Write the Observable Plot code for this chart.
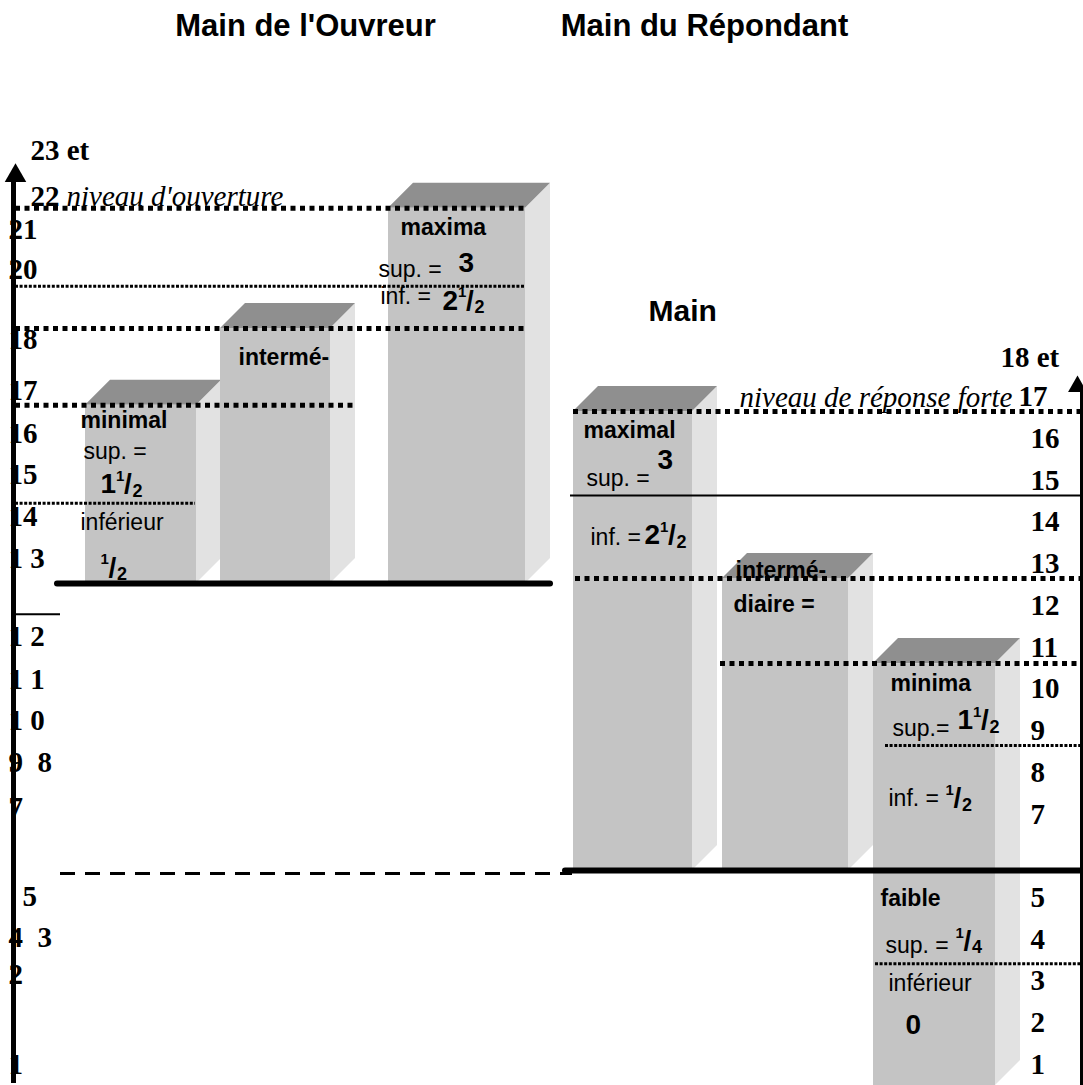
<!DOCTYPE html>
<html><head><meta charset="utf-8">
<script src="https://cdn.jsdelivr.net/npm/d3@7"></script>
<script src="https://cdn.jsdelivr.net/npm/@observablehq/plot@0.6"></script>
<style>
body{margin:0;background:#fff}
#chart svg{display:block}
#chart svg text{white-space:pre}
</style>
</head><body><div id="chart"></div>
<script>
// ---------------- DATA (values in points) ----------------
const titles = ["Main de l'Ouvreur", "Main du Répondant"];
const openerBars = ["minimal", "intermédiaire", "maxima"];
const openerTop = [16.8, 18.64, 21.52];
const openerBottom = [12.53, 12.53, 12.53];
const responderBars = ["maximal", "intermédiaire", "minima"];
const responderTop = [16.65, 12.65, 10.61];
const responderBottom = [5.65, 5.65, 0.5];

const leftTickLabels = ["23 et","22","21","20","18","17","16","15","14","1 3","1 2","1 1","1 0","9  8","7","5","4  3","2","1"];
const leftTickPos = [22.91,21.8,21.0,20.05,18.36,17.14,16.13,15.13,14.12,13.12,11.25,10.22,9.24,8.23,7.16,5.02,4.04,3.16,1.0];
const rightTickLabels = ["18 et","17","16","15","14","13","12","11","10","9","8","7","5","4","3","2","1"];
const rightTickPos = [17.95,17,16,15,14,13,12,11,10,9,8,7,5,4,3,2,1];

const openerLevels = [21.52, 19.65, 18.64, 16.8, 14.45];
const responderLevels = [16.65, 14.64, 12.65, 10.61, 8.65, 3.42];
const baseLevels = [12.53, 11.79, 5.58, 5.65];

const bandLabels = ["minimal","sup. =","1¹/₂","inférieur","¹/₂","intermé-","maxima","sup. =","3","inf. =","2¹/₂",
  "maximal","sup. =","3","inf. =","2¹/₂","intermé-","diaire =","minima","sup.=","1¹/₂","inf. =","¹/₂",
  "faible","sup. =","¹/₄","inférieur","0"];
const bandLabelPos = [16.44,15.68,14.92,13.99,12.91,17.95,21.06,20.06,20.22,19.4,19.31,
  16.2,15.05,15.48,13.63,13.68,12.84,12.03,10.13,9.05,9.25,7.38,7.38,
  4.98,3.85,3.97,2.94,1.94];
const levelNames = ["niveau d'ouverture", "niveau de réponse forte"];
const levelNamePos = [21.8, 16.99];
const midTitle = "Main";
const midTitlePos = 19.05;

// ---------------- LAYOUT (horizontal placement & styles) ----------------
const W = 1083, H = 1085;
const openerX = [[85,196],[220,330],[388,525]];
const responderX = [[573,692],[722,848],[873,995]];
const DX = 25, DY = 0.6;
const leftTickX = [30,30,8,8,8,8,8,8,8,8,8,8,8,8,8,22,8,8,8];
const rightTickX = p => p === 17 ? 1018 : (p === 17.95 ? 1000 : 1030);
const levelLayout = [
  [openerLevels[0], 15, 525, "thick"], [openerLevels[1], 15, 525, "thin"], [openerLevels[2], 15, 525, "thick"],
  [openerLevels[3], 15, 355, "thick"], [openerLevels[4], 15, 195, "thin"],
  [responderLevels[0], 573, 1083, "thick"], [responderLevels[1], 570, 1083, "solid"], [responderLevels[2], 575, 1083, "thick"],
  [responderLevels[3], 720, 1083, "thick"], [responderLevels[4], 885, 1083, "thin"], [responderLevels[5], 875, 1083, "thin"],
  [baseLevels[0], 57, 550, "base"], [baseLevels[1], 15, 60, "solid"], [baseLevels[2], 60, 572, "dashed"], [baseLevels[3], 565, 1083, "base"]
];
const bandLabelX = [80,83,100,80,100,238,400,378,458,380,442,
  583,586,657,590,644,735,733,890,892,957,888,945,
  880,885,955,888,905];
const bandLabelKind = ["b","r","n","r","n","b","b","r","n","r","n",
  "b","r","n","r","n","b","b","b","r","n","r","n",
  "b","r","n","r","n"];

const SANS = "Liberation Sans, Arial, Helvetica, sans-serif";
const SERIF = "Liberation Serif, Times New Roman, serif";

const bars = [
  ...openerBars.map((name, i) => ({id: "o" + i, name, x1: openerX[i][0], x2: openerX[i][1], y1: openerBottom[i], y2: openerTop[i]})),
  ...responderBars.map((name, i) => ({id: "r" + i, name, x1: responderX[i][0], x2: responderX[i][1], y1: responderBottom[i], y2: responderTop[i]}))
];
const sides = bars.flatMap(b => [
  {id: b.id, x: b.x2, y1: b.y1, y2: b.y2},
  {id: b.id, x: b.x2 + DX, y1: b.y1 + DY, y2: b.y2 + DY}
]);
const tops = bars.flatMap(b => [
  {id: b.id, y: b.y2, x1: b.x1, x2: b.x2},
  {id: b.id, y: b.y2 + DY, x1: b.x1 + DX, x2: b.x2 + DX}
]);
const levels = levelLayout.map(([y, x1, x2, style]) => ({y, x1, x2, style}));
const lineStyle = {
  thick: {strokeWidth: 5, strokeDasharray: "5,4.5"},
  thin: {strokeWidth: 3, strokeDasharray: "3,1.6"},
  solid: {strokeWidth: 2},
  base: {strokeWidth: 6, strokeLinecap: "round"},
  dashed: {strokeWidth: 3, strokeDasharray: "15,10"}
};
const labels = bandLabels.map((t, i) => ({t, x: bandLabelX[i], y: bandLabelPos[i], k: bandLabelKind[i]}));
const leftTicks = leftTickLabels.map((t, i) => ({t, x: leftTickX[i], y: leftTickPos[i]}));
const rightTicks = rightTickLabels.map((t, i) => ({t, x: rightTickX(rightTickPos[i]), y: rightTickPos[i]}));

// split fraction strings like "1¹/₂" into whole / numerator / denominator pieces
const SUP = {"¹":"1","²":"2","³":"3","⁴":"4"};
const SUB = {"₀":"0","₁":"1","₂":"2","₃":"3","₄":"4"};
const numLabels = labels.filter(d => d.k === "n");
const whole = [], numer = [], slash = [], denom = [];
for (const d of numLabels) {
  const m = d.t.match(/^(\d*)([¹²³⁴]?)\/([₀-₉])$/);
  if (!m) { whole.push({t: d.t, x: d.x, y: d.y}); continue; }
  let x = d.x;
  if (m[1]) { whole.push({t: m[1], x, y: d.y}); x += 15.5 * m[1].length; }
  numer.push({t: SUP[m[2]], x: x, y: d.y}); x += 8;
  slash.push({t: "/", x, y: d.y}); x += 8.5;
  denom.push({t: SUB[m[3]], x, y: d.y});
}

const plot = Plot.plot({
  width: W, height: H, margin: 0,
  x: {domain: [0, W], axis: null},
  y: {domain: [0.5, 26.5], axis: null},
  style: {fontFamily: SANS, background: "#fff"},
  marks: [
    Plot.areaY(sides, {x: "x", y1: "y1", y2: "y2", z: "id", fill: "#e2e2e2", curve: "linear"}),
    Plot.areaX(tops, {y: "y", x1: "x1", x2: "x2", z: "id", fill: "#8f8f8f", curve: "linear"}),
    Plot.rect(bars, {x1: "x1", x2: "x2", y1: "y1", y2: "y2", fill: "#c4c4c4"}),
    ...Object.entries(lineStyle).map(([k, s]) =>
      Plot.ruleY(levels.filter(d => d.style === k), {y: "y", x1: "x1", x2: "x2", stroke: "#000", ...s})),
    // axes
    Plot.ruleX([13], {y1: 0.55, y2: 22.2, strokeWidth: 5}),
    Plot.dot([{x: 15, y: 22.3}], {x: "x", y: "y", symbol: "triangle", r: 8, fill: "#000"}),
    Plot.ruleX([1081], {y1: 0.5, y2: 17.2, strokeWidth: 3}),
    Plot.dot([{x: 1077, y: 17.25}], {x: "x", y: "y", symbol: "triangle", r: 7, fill: "#000"}),
    // titles
    Plot.text(titles, {x: [305, 704], y: [25.88, 25.88], text: d => d, fontSize: 31, fontWeight: "bold", fontFamily: SANS}),
    Plot.text([midTitle], {x: [648], y: [midTitlePos], text: d => d, textAnchor: "start", fontSize: 30, fontWeight: "bold", fontFamily: SANS}),
    // tick numbers
    Plot.text(leftTicks, {x: "x", y: "y", text: "t", textAnchor: "start", fontSize: 29, fontWeight: "bold", fontFamily: SERIF}),
    Plot.text(rightTicks, {x: "x", y: "y", text: "t", textAnchor: "start", fontSize: 29, fontWeight: "bold", fontFamily: SERIF}),
    Plot.text([levelNames[0]], {x: [66], y: [levelNamePos[0]], text: d => d, textAnchor: "start", fontSize: 29, fontStyle: "italic", fontFamily: SERIF}),
    Plot.text([levelNames[1]], {x: [1012], y: [levelNamePos[1]], text: d => d, textAnchor: "end", fontSize: 29, fontStyle: "italic", fontFamily: SERIF}),
    // band labels
    Plot.text(labels.filter(d => d.k === "b"), {x: "x", y: "y", text: "t", textAnchor: "start", fontSize: 23, fontWeight: "bold", fontFamily: SANS}),
    Plot.text(labels.filter(d => d.k === "r"), {x: "x", y: "y", text: "t", textAnchor: "start", fontSize: 23, fontFamily: SANS}),
    // fractions and numbers
    Plot.text(whole, {x: "x", y: "y", text: "t", textAnchor: "start", fontSize: 28, fontWeight: "bold", fontFamily: SANS}),
    Plot.text(numer, {x: "x", y: "y", text: "t", textAnchor: "start", dy: -8, fontSize: 15, fontWeight: "bold", fontFamily: SANS}),
    Plot.text(slash, {x: "x", y: "y", text: "t", textAnchor: "start", fontSize: 28, fontWeight: "bold", fontFamily: SANS}),
    Plot.text(denom, {x: "x", y: "y", text: "t", textAnchor: "start", dy: 7, fontSize: 18, fontWeight: "bold", fontFamily: SANS})
  ]
});
document.getElementById("chart").append(plot);
</script>
</body></html>
